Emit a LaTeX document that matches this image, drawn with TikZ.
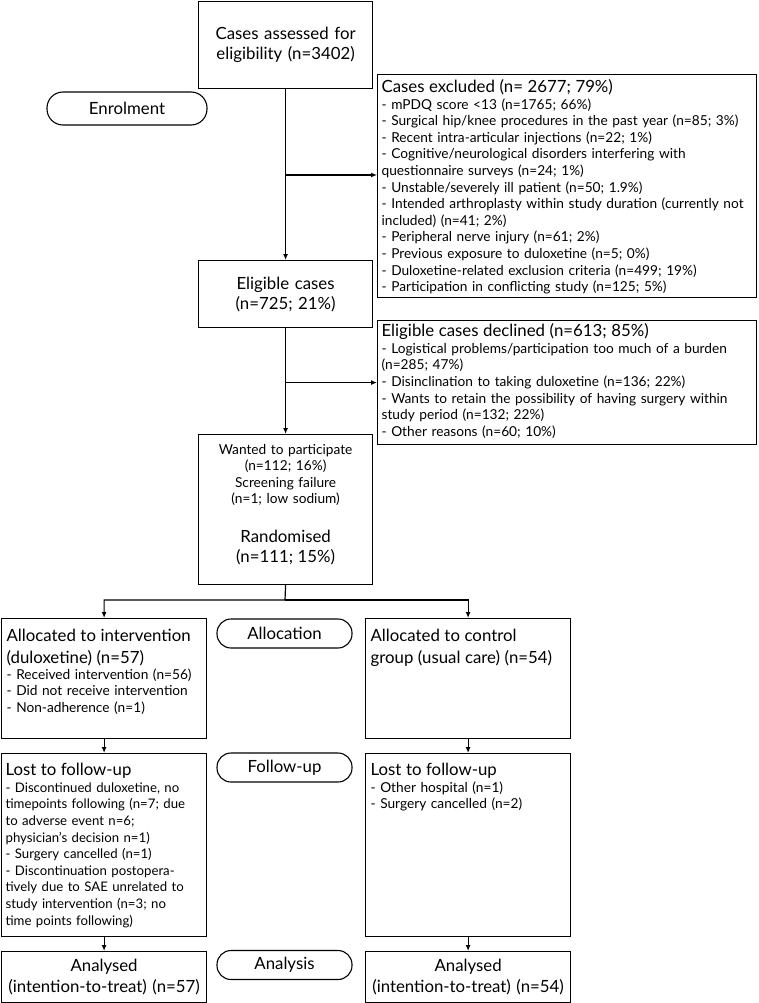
\documentclass[tikz,border=0pt]{standalone}
\usepackage{fontspec}
\setmainfont{Lato}
\usetikzlibrary{arrows.meta}

\newcommand{\bigtxt}{\fontsize{16.8}{20}\selectfont}
\newcommand{\smalltxt}{\fontsize{13.7}{16.6}\selectfont}
\newcommand{\tighttxt}{\fontsize{13.2}{16.6}\selectfont}

\begin{document}
\begin{tikzpicture}[x=1pt, y=-1pt,
    box/.style={draw, line width=1.2pt, anchor=north west, inner xsep=4pt, inner ysep=0pt, align=left, font=\smalltxt},
    pill/.style={draw, line width=1.1pt, rounded corners=14pt, minimum width=135pt, minimum height=29pt, inner sep=0pt, font=\bigtxt},
    arr/.style={line width=1.2pt, -{Latex[length=6pt,width=5pt]}},
    link/.style={line width=1.2pt}]

    \useasboundingbox (0,0) rectangle (758,1003);

    \node[box, align=center, font=\bigtxt, text width=166pt, text height=38pt, text depth=49pt] (assess) at (198,1) {Cases assessed for\\eligibility (n=3402)};

    \node[pill, minimum width=160pt, minimum height=33pt, rounded corners=16pt] (enrol) at (127,108.5) {Enrolment};

    \node[box, text width=371pt, text height=18pt, text depth=205pt] (excl) at (377,74) {{\bigtxt Cases excluded (n= 2677; 79\%)}\\
      - mPDQ score <13 (n=1765; 66\%)\\
      - Surgical hip/knee procedures in the past year (n=85; 3\%)\\
      - Recent intra-articular injections (n=22; 1\%)\\
      - Cognitive/neurological disorders interfering with\\
      questionnaire surveys (n=24; 1\%)\\
      - Unstable/severely ill patient (n=50; 1.9\%)\\
      - Intended arthroplasty within study duration (currently not\\
      included) (n=41; 2\%)\\
      - Peripheral nerve injury (n=61; 2\%)\\
      - Previous exposure to duloxetine (n=5; 0\%)\\
      - Duloxetine-related exclusion criteria (n=499; 19\%)\\
      - Participation in conflicting study (n=125; 5\%)};

    \node[box, align=center, font=\bigtxt, text width=166pt, text height=29pt, text depth=38pt] (elig) at (198,260) {Eligible cases\\(n=725; 21\%)};

    \node[box, text width=371pt, text height=16pt, text depth=108pt] (decl) at (377,320) {{\bigtxt Eligible cases declined (n=613; 85\%)}\\
      - Logistical problems/participation too much of a burden\\
      (n=285; 47\%)\\
      - Disinclination to taking duloxetine (n=136; 22\%)\\
      - Wants to retain the possibility of having surgery within\\
      study period (n=132; 22\%)\\
      - Other reasons (n=60; 10\%)};

    \node[box, align=center, text width=166pt, text height=19.5pt, text depth=130.5pt] (rand) at (198,434) {Wanted to participate\\(n=112; 16\%)\\Screening failure\\(n=1; low sodium)\\[21.5pt]
      {\bigtxt Randomised}\\[3.5pt]{\bigtxt (n=111; 15\%)}};

    \node[box, inner xsep=5pt, text width=195pt, text height=23pt, text depth=97pt] (interv) at (1,618) {{\bigtxt Allocated to intervention}\\[5.5pt]
      {\bigtxt (duloxetine) (n=57)}\\[-1pt]
      - Received intervention (n=56)\\
      - Did not receive intervention\\
      - Non-adherence (n=1)};

    \node[pill] (alloc) at (284.5,633.5) {Allocation};

    \node[box, inner xsep=5pt, text width=195pt, text height=23pt, text depth=97pt] (ctrl) at (365,618) {{\bigtxt Allocated to control}\\[5.5pt]
      {\bigtxt group (usual care) (n=54)}};

    \node[box, inner xsep=4pt, font=\tighttxt, text width=197pt, text height=22pt, text depth=161pt] (lost1) at (1,753) {{\bigtxt Lost to follow-up}\\
      - Discontinued duloxetine, no\\
      timepoints following (n=7; due\\
      to adverse event n=6;\\
      physician’s decision n=1)\\
      - Surgery cancelled (n=1)\\
      - Discontinuation postopera-\\
      tively due to SAE unrelated to\\
      \mbox{study intervention (n=3; no}\\
      time points following)};

    \node[pill] (follow) at (284.5,767.5) {Follow-up};

    \node[box, inner xsep=5pt, text width=195pt, text height=22pt, text depth=161pt] (lost2) at (365,753) {{\bigtxt Lost to follow-up}\\
      - Other hospital (n=1)\\
      - Surgery cancelled (n=2)};

    \node[box, inner xsep=5pt, align=center, font=\bigtxt, text width=195pt, text height=20pt, text depth=31pt] (anal1) at (1,951) {Analysed\\[1pt](intention-to-treat) (n=57)};

    \node[pill] (analysis) at (284.5,965) {Analysis};

    \node[box, inner xsep=5pt, align=center, font=\bigtxt, text width=195pt, text height=20pt, text depth=31pt] (anal2) at (365,951) {Analysed\\[1pt](intention-to-treat) (n=54)};

    \coordinate (split1) at (285,175);
    \coordinate (split2) at (285,600);

    \draw[arr] (assess.south) -- (elig.north);
    \draw[arr] (split1) -- (split1 -| excl.west);
    \draw[arr] (elig.south) -- (rand.north);
    \draw[arr] (elig.south |- decl.west) -- (decl.west);
    \draw[arr] (rand.south) -- (split2) -| (interv.north);
    \draw[arr] (split2) -| (ctrl.north);
    \draw[arr] (interv.south) -- (lost1.north);
    \draw[arr] (ctrl.south) -- (lost2.north);
    \draw[arr] (lost1.south) -- (anal1.north);
    \draw[arr] (lost2.south) -- (anal2.north);

\end{tikzpicture}
\end{document}
